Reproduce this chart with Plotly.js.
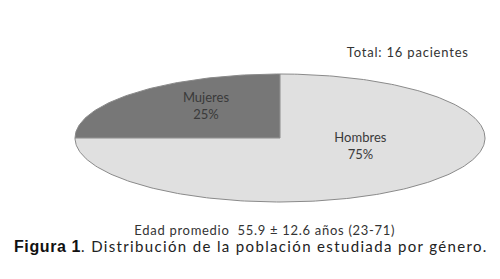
<!DOCTYPE html>
<html>
<head>
<meta charset="utf-8">
<script src="https://cdn.plot.ly/plotly-3.0.1.min.js"></script>
<style>html,body{margin:0;padding:0;background:#fff;}#chart{width:500px;height:279px;}</style>
</head>
<body>
<div id="chart"></div>
<script>
// ---- data ----
const categories = ["Mujeres", "Hombres"];
const percents = [25, 75];
const totalLabel = "Total: 16 pacientes";
const ageLabel = "Edad promedio&nbsp;&nbsp;55.9 ± 12.6 años (23-71)";
const figLabel = "Figura 1";
const captionLabel = ". Distribución de la población estudiada por género.";

// ---- styling ----
const sliceColors = ["#777777", "#e0e0e0"];
const labelPlacement = [{r: 0.6, dAng: -8}, {r: 0.42, dAng: 24}]; // radius factor, angle shift (deg)
const startAngle = 90; // 12 o'clock, counterclockwise

const traces = [];
const total = percents.reduce((a, b) => a + b, 0);
let cum = 0;
percents.forEach((v, i) => {
  const a0 = startAngle + 360 * cum / total;
  const a1 = startAngle + 360 * (cum + v) / total;
  cum += v;
  const xs = [0], ys = [0];
  const steps = Math.max(8, Math.round((a1 - a0) / 1));
  for (let k = 0; k <= steps; k++) {
    const a = (a0 + (a1 - a0) * k / steps) * Math.PI / 180;
    xs.push(Math.cos(a)); ys.push(Math.sin(a));
  }
  xs.push(0); ys.push(0);
  traces.push({
    type: "scatter", mode: "lines", x: xs, y: ys, fill: "toself",
    fillcolor: sliceColors[i], line: {color: "#8a8a8a", width: 1},
    hoverinfo: "skip", showlegend: false
  });
  const am = ((a0 + a1) / 2 + labelPlacement[i].dAng) * Math.PI / 180;
  traces.push({
    type: "scatter", mode: "text",
    x: [labelPlacement[i].r * Math.cos(am)], y: [labelPlacement[i].r * Math.sin(am)],
    text: [categories[i] + "<br>" + v + "%"],
    textfont: {family: "Lato, 'Open Sans', sans-serif", size: 13, color: "#3a3a3a"},
    hoverinfo: "skip", showlegend: false
  });
});

const captionText =
  "<span style=\"font-family:'Liberation Sans', Arial, sans-serif;font-weight:bold;font-size:16px;fill:#111;letter-spacing:0.6px\">" +
  figLabel + "</span><span style=\"letter-spacing:1.35px\">" + captionLabel + "</span>";

const layout = {
  width: 500, height: 279,
  margin: {l: 0, r: 0, t: 0, b: 0},
  paper_bgcolor: "#ffffff", plot_bgcolor: "#ffffff",
  xaxis: {range: [-280 / 205, 220 / 205], visible: false, fixedrange: true},
  yaxis: {range: [-141 / 64, 138 / 64], visible: false, fixedrange: true},
  annotations: [
    {text: totalLabel, xref: "paper", yref: "paper", x: 471 / 500, y: 1 - 52 / 279,
     xanchor: "right", yanchor: "middle", align: "right", showarrow: false,
     font: {family: "Lato, sans-serif", size: 13, color: "#333"}},
    {text: ageLabel, xref: "paper", yref: "paper", x: 264.5 / 500, y: 1 - 230 / 279,
     xanchor: "center", yanchor: "middle", align: "center", showarrow: false,
     font: {family: "Lato, sans-serif", size: 13, color: "#333"}},
    {text: captionText, xref: "paper", yref: "paper", x: 12 / 500, y: 1 - 246 / 279,
     xanchor: "left", yanchor: "middle", align: "left", showarrow: false,
     font: {family: "Lato, sans-serif", size: 15, color: "#222"}}
  ]
};

const spacing = {};
spacing[totalLabel] = "0.8px";
spacing["Edad promedio"] = "0.7px";

Plotly.newPlot("chart", traces, layout, {staticPlot: true, displayModeBar: false}).then(gd => {
  gd.querySelectorAll(".annotation-text").forEach(t => {
    const s = t.textContent;
    for (const key in spacing) {
      if (s.indexOf(key) === 0) t.style.letterSpacing = spacing[key];
    }
  });
});
</script>
</body>
</html>
